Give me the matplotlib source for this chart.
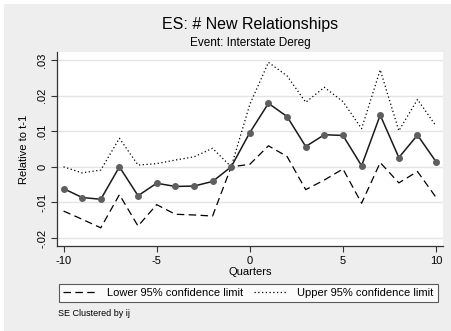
import matplotlib.pyplot as plt
from matplotlib.patches import Rectangle

plt.rcParams['font.family'] = ['Liberation Sans', 'DejaVu Sans']

# Event-time coefficients (quarters relative to deregulation, t-1 omitted)
quarters = list(range(-10, 11))
estimate = [-0.0061, -0.0086, -0.0091, 0.0000, -0.0081, -0.0046, -0.0055, -0.0054, -0.0041, 0.0000,
            0.0096, 0.0178, 0.0141, 0.0057, 0.0090, 0.0088, 0.0003, 0.0145, 0.0026, 0.0089, 0.0014]
lower_ci = [-0.0124, -0.0147, -0.0171, -0.0078, -0.0166, -0.0106, -0.0133, -0.0135, -0.0138, 0.0000,
            0.0007, 0.0059, 0.0029, -0.0064, -0.0037, -0.0006, -0.0102, 0.0012, -0.0045, -0.0013, -0.0086]
upper_ci = [0.0000, -0.0017, -0.0009, 0.0080, 0.0005, 0.0009, 0.0019, 0.0028, 0.0052, 0.0000,
            0.0175, 0.0293, 0.0255, 0.0181, 0.0223, 0.0183, 0.0107, 0.0272, 0.0101, 0.0189, 0.0114]

yticks = [-0.02, -0.01, 0, 0.01, 0.02, 0.03]
ytick_labels = ['-.02', '-.01', '0', '.01', '.02', '.03']
xticks = [-10, -5, 0, 5, 10]

fig = plt.figure(figsize=(4.51, 3.31), dpi=100, facecolor='white')
# light gray graph region with a thin white margin
fig.patches.append(Rectangle((4 / 451, 0), 1, 1 - 4 / 331, transform=fig.transFigure,
                             facecolor='#eeeeee', edgecolor='none', zorder=-1))

ax = fig.add_axes([57 / 451, 1 - 246 / 331, (443 - 57) / 451, (246 - 52) / 331])
ax.set_facecolor('white')

ax.plot(quarters, lower_ci, color='black', lw=0.9, dashes=(6, 3.5),
        label='Lower 95% confidence limit')
ax.plot(quarters, upper_ci, color='black', lw=0.9, linestyle=(0, (1, 2)),
        label='Upper 95% confidence limit')
ax.plot(quarters, estimate, color='#1a1a1a', lw=1.1, marker='o', ms=4.0,
        mfc='#5f5f5f', mec='#5f5f5f', zorder=3)

ax.set_xlim(-10.35, 10.37)
ax.set_ylim(-0.0222, 0.0322)
ax.set_xticks(xticks)
ax.set_xticklabels([str(x) for x in xticks], fontsize=8)
ax.set_yticks(yticks)
ax.set_yticklabels(ytick_labels, fontsize=8, rotation=90, va='center')
ax.yaxis.grid(True, color='#e4e4e4', lw=1.0)
ax.set_axisbelow(True)

for side in ['top', 'right']:
    ax.spines[side].set_visible(False)
for side in ['left', 'bottom']:
    ax.spines[side].set_color('#333333')
    ax.spines[side].set_linewidth(0.9)
ax.tick_params(length=4, width=0.8, color='#333333', pad=3)

ax.set_xlabel('Quarters', fontsize=8, labelpad=1)
ax.set_ylabel('Relative to t-1', fontsize=8, labelpad=6)

fig.text(0.555, 0.925, 'ES: # New Relationships', ha='center', va='center', fontsize=11.5)
fig.text(0.555, 0.870, 'Event: Interstate Dereg', ha='center', va='center', fontsize=8.5)

leg = fig.legend(loc='center', bbox_to_anchor=(248.5 / 451, 1 - 293 / 331), ncol=2,
                 fontsize=8, frameon=True, fancybox=False, edgecolor='#333333',
                 handlelength=3.0, columnspacing=1.0, handletextpad=0.9,
                 borderpad=0.4, borderaxespad=0)
leg.get_frame().set_linewidth(0.8)
leg.get_frame().set_facecolor('white')

fig.text(58 / 451, 1 - 313 / 331, 'SE Clustered by ij', ha='left', va='center', fontsize=6.5)

fig.savefig('out.png', dpi=100, facecolor=fig.get_facecolor())
